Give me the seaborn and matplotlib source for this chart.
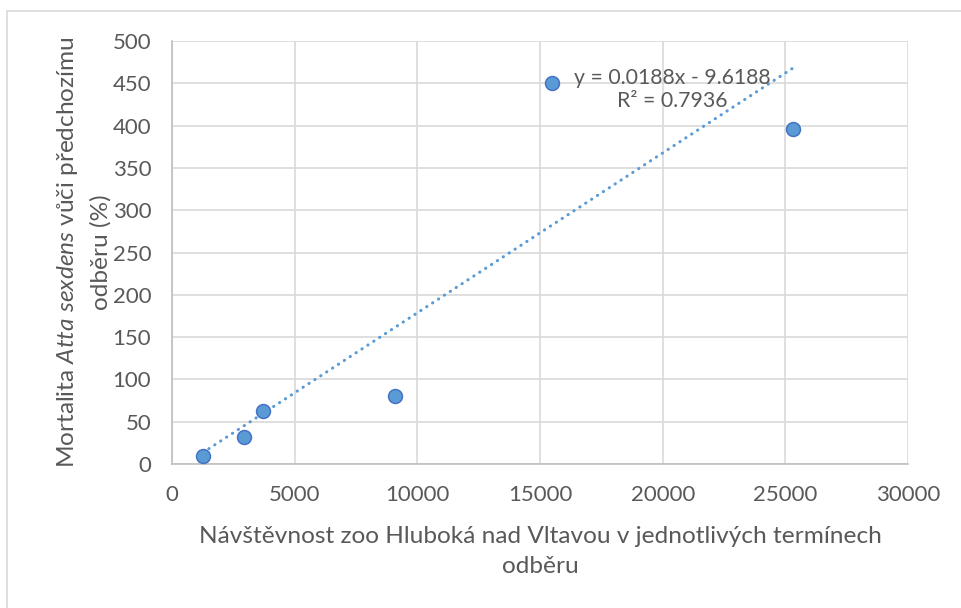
import numpy as np
import pandas as pd
import matplotlib.pyplot as plt
import seaborn as sns
from matplotlib.lines import Line2D

# values
navstevnost = [1260, 2930, 3710, 9090, 15490, 25320]
mortalita = [9.5, 31.9, 62.6, 80.4, 450.4, 396.0]

x_ticks = [0, 5000, 10000, 15000, 20000, 25000, 30000]
y_ticks = [0, 50, 100, 150, 200, 250, 300, 350, 400, 450, 500]

df = pd.DataFrame({'navstevnost': navstevnost, 'mortalita': mortalita})

sns.set_style('white')
plt.rcParams['font.family'] = ['Lato', 'DejaVu Sans']
plt.rcParams['mathtext.fontset'] = 'custom'
plt.rcParams['mathtext.rm'] = 'Lato'
plt.rcParams['mathtext.it'] = 'Lato:italic'

text_col = '#595959'
grid_col = '#d9d9d9'

fig = plt.figure(figsize=(9.61, 6.08), dpi=100)
ax = fig.add_axes([0.179, 0.2368, 0.766, 0.6958])

sns.regplot(data=df, x='navstevnost', y='mortalita', ax=ax, ci=None,
            scatter_kws=dict(s=100, color='#5b9bd5', edgecolor='#4472c4',
                             linewidths=1.1, alpha=1, zorder=4),
            line_kws=dict(color='#5b9bd5', lw=2.2, ls=(0, (0.1, 2.2)),
                          dash_capstyle='round', zorder=3))

ax.set_xlim(0, 30000)
ax.set_ylim(0, 500)
ax.set_xticks(x_ticks)
ax.set_yticks(y_ticks)
ax.grid(True, color=grid_col, lw=1.2)
ax.set_axisbelow(True)
for side in ['top', 'right']:
    ax.spines[side].set_visible(False)
for side in ['left', 'bottom']:
    ax.spines[side].set_color('#bfbfbf')
    ax.spines[side].set_linewidth(1.2)
ax.tick_params(axis='both', length=0, labelsize=16, colors=text_col, pad=15)

ax.set_xlabel('Návštěvnost zoo Hluboká nad Vltavou v jednotlivých termínech\nodběru',
              fontsize=17.6, color=text_col, labelpad=15, linespacing=1.55)
ax.set_ylabel('Mortalita $\\mathit{Atta\\ sexdens}$ vůči předchozímu\nodběru (%)',
              fontsize=17.6, color=text_col, labelpad=1, linespacing=1.55)

ax.text(0.679, 0.885, 'y = 0.0188x - 9.6188\nR² = 0.7936', transform=ax.transAxes,
        ha='center', va='center', multialignment='center', fontsize=15.3,
        color=text_col, linespacing=1.2, zorder=5)

# light border of the chart area
fig.add_artist(Line2D([0.0073, 1.0], [1 - 11 / 608, 1 - 11 / 608], color=grid_col, lw=1.2))
fig.add_artist(Line2D([0.0073, 0.0073], [0.0, 1 - 11 / 608], color=grid_col, lw=1.2))

fig.savefig('out.png', dpi=100)
